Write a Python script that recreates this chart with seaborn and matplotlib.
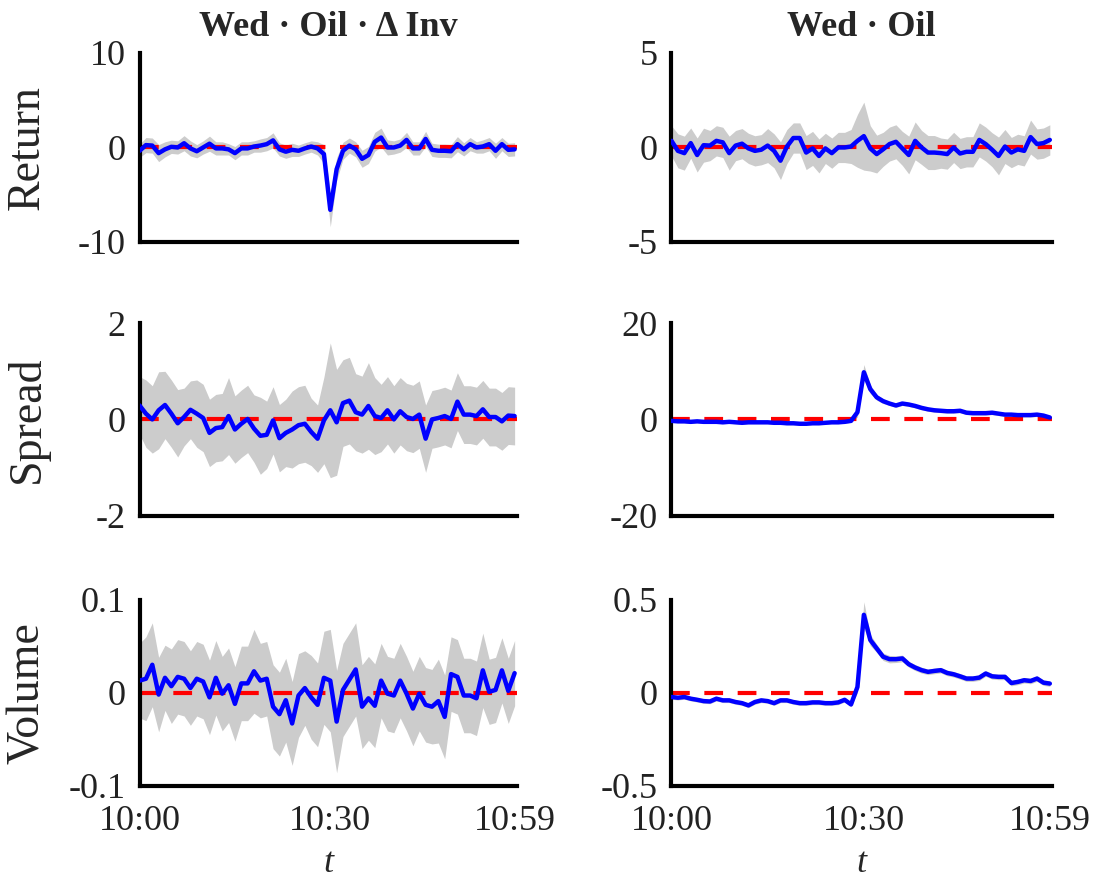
import numpy as np
import pandas as pd
import seaborn as sns
import matplotlib.pyplot as plt

# minute index 10:00 .. 10:59
minutes = list(range(60))
tick_pos = [0, 30, 59]
tick_labels = ["10:00", "10:30", "10:59"]

col_titles = ["Wed \u00b7 Oil \u00b7 \u0394 Inv", "Wed \u00b7 Oil"]
row_labels = ["Return", "Spread", "Volume"]

# Return, left (Wed . Oil . dInv)
ret_l = [-0.36, 0.25, 0.2, -0.6, -0.2, 0.07, 0.0, 0.45, -0.1, -0.4,
         0.0, 0.4, -0.1, -0.1, -0.2, -0.6, -0.1, -0.1, 0.1, 0.2,
         0.35, 0.75, -0.2, -0.45, -0.25, -0.35, -0.1, 0.1, -0.1, -0.7,
         -6.6, -2.3, -0.35, 0.2, -0.2, -1.2, -0.8, 0.6, 1.05, 0.0,
         0.0, 0.2, 0.8, -0.1, -0.1, 0.9, -0.25, -0.35, -0.35, -0.4,
         0.35, -0.2, 0.35, 0.0, 0.1, 0.35, -0.35, 0.35, -0.25, -0.2]
ret_l_hw = [0.7, 0.8, 0.8, 0.9, 0.8, 0.7, 0.7, 0.8, 0.8, 0.7,
            0.7, 0.8, 0.7, 0.7, 0.6, 0.7, 0.7, 0.7, 0.6, 0.7,
            0.7, 0.8, 0.7, 0.7, 0.7, 0.6, 0.6, 0.6, 0.7, 1.0,
            1.8, 1.2, 0.9, 0.8, 0.8, 0.9, 0.9, 1.0, 1.0, 0.8,
            0.7, 0.7, 0.8, 0.7, 0.7, 0.8, 0.7, 0.7, 0.7, 0.7,
            0.8, 0.7, 0.7, 0.6, 0.7, 0.7, 0.8, 0.7, 0.7, 0.7]

# Return, right (Wed . Oil)
ret_r = [0.35, -0.18, -0.3, 0.23, -0.4, 0.12, 0.1, 0.35, 0.27, -0.3,
         0.1, 0.2, -0.05, -0.18, -0.12, 0.1, -0.18, -0.7, 0.05, 0.5,
         0.5, -0.27, -0.05, -0.45, -0.05, -0.3, 0.0, 0.0, 0.05, 0.35,
         0.6, -0.05, -0.35, -0.1, 0.18, 0.3, -0.05, -0.4, 0.35, 0.0,
         -0.27, -0.27, -0.3, -0.35, 0.0, -0.32, -0.23, -0.23, 0.4, 0.18,
         -0.12, -0.45, 0.05, -0.27, -0.1, -0.18, 0.55, 0.18, 0.23, 0.4]
ret_r_hw = [0.8, 0.9, 0.9, 0.8, 0.9, 0.9, 0.8, 0.8, 0.8, 0.9,
            0.8, 0.8, 0.8, 0.8, 0.8, 0.9, 0.9, 1.0, 0.9, 0.8,
            0.8, 0.9, 0.9, 0.9, 0.8, 0.8, 0.8, 0.8, 0.9, 1.4,
            1.8, 1.2, 1.0, 0.9, 0.9, 0.9, 0.9, 1.0, 1.0, 0.9,
            0.9, 0.9, 0.8, 0.8, 0.8, 0.8, 0.8, 0.8, 0.9, 0.9,
            0.9, 1.0, 0.9, 0.8, 0.8, 0.8, 0.9, 0.8, 0.8, 0.8]

# Spread, left
spr_l = [0.29, 0.12, 0.0, 0.19, 0.3, 0.12, -0.08, 0.05, 0.2, 0.12,
         0.03, -0.28, -0.18, -0.16, 0.07, -0.21, -0.09, 0.01, -0.19, -0.34,
         -0.32, -0.02, -0.39, -0.28, -0.21, -0.12, -0.09, -0.26, -0.4, -0.02,
         0.19, -0.06, 0.34, 0.39, 0.15, 0.1, 0.28, 0.07, 0.03, 0.19,
         0.0, 0.17, 0.05, 0.01, 0.1, -0.4, 0.0, 0.03, 0.07, 0.01,
         0.37, 0.1, 0.1, 0.07, 0.21, 0.05, 0.05, -0.04, 0.08, 0.07]
spr_l_hw = [0.6, 0.7, 0.7, 0.8, 0.7, 0.7, 0.7, 0.6, 0.6, 0.7,
            0.7, 0.7, 0.7, 0.7, 0.8, 0.7, 0.7, 0.7, 0.7, 0.8,
            0.7, 0.7, 0.7, 0.7, 0.8, 0.8, 0.8, 0.7, 0.7, 0.9,
            1.4, 1.1, 0.9, 0.9, 0.8, 0.8, 0.9, 0.8, 0.7, 0.7,
            0.7, 0.7, 0.7, 0.7, 0.7, 0.7, 0.6, 0.6, 0.6, 0.6,
            0.6, 0.6, 0.6, 0.6, 0.6, 0.6, 0.6, 0.6, 0.6, 0.6]

# Spread, right
spr_r = [-0.3, -0.4, -0.4, -0.5, -0.4, -0.5, -0.5, -0.5, -0.6, -0.5,
         -0.6, -0.7, -0.6, -0.6, -0.6, -0.6, -0.7, -0.7, -0.8, -0.8,
         -0.9, -0.9, -0.8, -0.8, -0.7, -0.6, -0.6, -0.5, -0.3, 1.5,
         9.8, 6.3, 4.6, 3.8, 3.3, 2.9, 3.3, 3.1, 2.8, 2.4,
         2.1, 1.9, 1.8, 1.7, 1.7, 1.8, 1.4, 1.3, 1.3, 1.3,
         1.4, 1.2, 1.0, 1.0, 0.9, 0.9, 0.9, 1.0, 0.8, 0.4]
spr_r_hw = [0.3, 0.3, 0.3, 0.3, 0.3, 0.3, 0.3, 0.3, 0.3, 0.3,
            0.3, 0.3, 0.3, 0.3, 0.3, 0.3, 0.3, 0.3, 0.3, 0.3,
            0.3, 0.3, 0.3, 0.3, 0.3, 0.3, 0.3, 0.3, 0.3, 1.0,
            1.6, 0.9, 0.6, 0.5, 0.4, 0.4, 0.4, 0.4, 0.4, 0.4,
            0.4, 0.4, 0.4, 0.4, 0.4, 0.4, 0.4, 0.4, 0.4, 0.4,
            0.4, 0.4, 0.4, 0.4, 0.4, 0.4, 0.4, 0.4, 0.4, 0.4]

# Volume, left
vol_l = [0.013, 0.015, 0.030, -0.002, 0.016, 0.007, 0.017, 0.015, 0.005, 0.015,
         0.012, -0.005, 0.016, -0.001, 0.008, -0.012, 0.010, 0.010, 0.023, 0.013,
         0.015, -0.015, -0.023, -0.008, -0.033, -0.003, 0.005, -0.005, -0.013, 0.016,
         0.013, -0.031, 0.003, 0.014, 0.025, -0.015, -0.006, -0.014, 0.013, -0.001,
         -0.003, 0.013, -0.001, -0.017, -0.001, -0.013, -0.015, -0.009, -0.026, 0.020,
         0.017, -0.003, -0.003, -0.006, 0.024, 0.001, 0.003, 0.024, 0.002, 0.021]
vol_l_hw = [0.040, 0.045, 0.045, 0.040, 0.035, 0.040, 0.040, 0.040, 0.040, 0.040,
            0.040, 0.040, 0.040, 0.040, 0.040, 0.040, 0.040, 0.040, 0.045, 0.040,
            0.040, 0.045, 0.045, 0.045, 0.045, 0.045, 0.040, 0.045, 0.045, 0.050,
            0.055, 0.055, 0.050, 0.050, 0.050, 0.045, 0.045, 0.045, 0.040, 0.040,
            0.040, 0.040, 0.040, 0.040, 0.040, 0.040, 0.040, 0.045, 0.045, 0.040,
            0.040, 0.040, 0.040, 0.040, 0.040, 0.035, 0.035, 0.035, 0.035, 0.035]

# Volume, right
vol_r = [-0.023, -0.027, -0.023, -0.032, -0.038, -0.045, -0.047, -0.032, -0.041, -0.041,
         -0.050, -0.056, -0.068, -0.050, -0.041, -0.045, -0.056, -0.041, -0.041, -0.050,
         -0.056, -0.056, -0.052, -0.052, -0.056, -0.056, -0.052, -0.038, -0.063, 0.031,
         0.418, 0.283, 0.238, 0.193, 0.180, 0.180, 0.184, 0.153, 0.135, 0.121,
         0.112, 0.117, 0.121, 0.106, 0.099, 0.088, 0.076, 0.076, 0.081, 0.103,
         0.088, 0.085, 0.085, 0.052, 0.058, 0.067, 0.063, 0.076, 0.054, 0.049]
vol_r_hw = [0.012, 0.012, 0.012, 0.012, 0.012, 0.012, 0.012, 0.012, 0.012, 0.012,
            0.012, 0.012, 0.012, 0.012, 0.012, 0.012, 0.012, 0.012, 0.012, 0.012,
            0.012, 0.012, 0.012, 0.012, 0.012, 0.012, 0.012, 0.012, 0.012, 0.030,
            0.070, 0.030, 0.022, 0.020, 0.020, 0.018, 0.018, 0.016, 0.016, 0.016,
            0.015, 0.015, 0.015, 0.015, 0.015, 0.015, 0.015, 0.015, 0.015, 0.015,
            0.015, 0.015, 0.015, 0.015, 0.015, 0.015, 0.015, 0.015, 0.015, 0.015]

panels = [
    [(ret_l, ret_l_hw, 10), (ret_r, ret_r_hw, 5)],
    [(spr_l, spr_l_hw, 2), (spr_r, spr_r_hw, 20)],
    [(vol_l, vol_l_hw, 0.1), (vol_r, vol_r_hw, 0.5)],
]

sns.set_style("white")
plt.rcParams["font.family"] = ["Liberation Serif", "DejaVu Serif"]

fig = plt.figure(figsize=(10.99, 8.83), dpi=100)

col_x = [0.127, 0.611]
col_w = [0.343, 0.346]
row_y = [0.726, 0.416, 0.110]
row_h = [0.214, 0.218, 0.211]

for r in range(3):
    for c in range(2):
        vals, hw, lim = panels[r][c]
        ax = fig.add_axes([col_x[c], row_y[r], col_w[c], row_h[r]])
        df = pd.DataFrame({"t": minutes, "y": vals, "hw": hw})
        ax.fill_between(df["t"], df["y"] - df["hw"], df["y"] + df["hw"],
                        color="#cccccc", linewidth=0, zorder=1)
        ax.axhline(0, color="red", lw=3, dashes=(4.5, 3.5), zorder=2)
        sns.lineplot(data=df, x="t", y="y", ax=ax, color="blue", lw=3.2, zorder=3)
        ax.set_xlim(0, 59.3)
        ax.set_ylim(-lim, lim)
        ax.set_yticks([-lim, 0, lim])
        ax.set_yticklabels([f"{-lim:g}", "0", f"{lim:g}"])
        ax.set_xticks(tick_pos)
        if r == 2:
            ax.set_xticklabels(tick_labels)
            ax.set_xlabel("t", fontsize=26, style="italic", labelpad=6)
        else:
            ax.set_xticklabels([])
            ax.set_xlabel("")
        if c == 0:
            ax.set_ylabel(row_labels[r], fontsize=33)
            ax.yaxis.set_label_coords(-0.24, 0.5)
        else:
            ax.set_ylabel("")
        if r == 0:
            ax.set_title(col_titles[c], fontsize=26, fontweight="bold", pad=12)
        ax.tick_params(direction="in", length=4, width=2, labelsize=26,
                       pad=10, colors="black", labelcolor="#222222")
        ax.tick_params(axis="x", pad=14)
        sns.despine(ax=ax)
        for s in ["left", "bottom"]:
            ax.spines[s].set_linewidth(3)
            ax.spines[s].set_color("black")

plt.savefig("out.png", dpi=100)
